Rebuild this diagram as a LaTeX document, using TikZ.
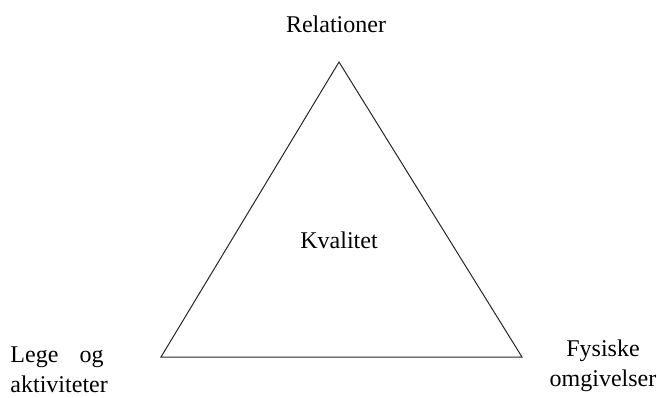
\documentclass[tikz,border=0pt]{standalone}
\usepackage{fontspec}
\setmainfont{Liberation Serif}
\usetikzlibrary{positioning}

\begin{document}
\begin{tikzpicture}
[x=0.5pt, y=-0.5pt, draw=black!85, line width=0.5pt,
label/.style={inner sep=0pt, font=\fontsize{12}{15}\selectfont},
corner/.style={label, anchor=north}
]

\useasboundingbox (0,0) rectangle (657,397);

\coordinate (top) at (339,62);
\coordinate (left) at (161,357);
\coordinate (right) at (522,357);

\draw (top) -- (left) -- (right) -- cycle;

\node[label, anchor=base] (relationer) at (336,32) {Relationer};
\node[label, anchor=base] (kvalitet) at (339,248) {Kvalitet};
\node[corner, anchor=north west, text width=46.5pt, align=justify] (lege) at (10,346) {Lege og \mbox{aktiviteter}};
\node[corner, align=center] (fysiske) at (603,339) {Fysiske\\omgivelser};
\end{tikzpicture}
\end{document}
